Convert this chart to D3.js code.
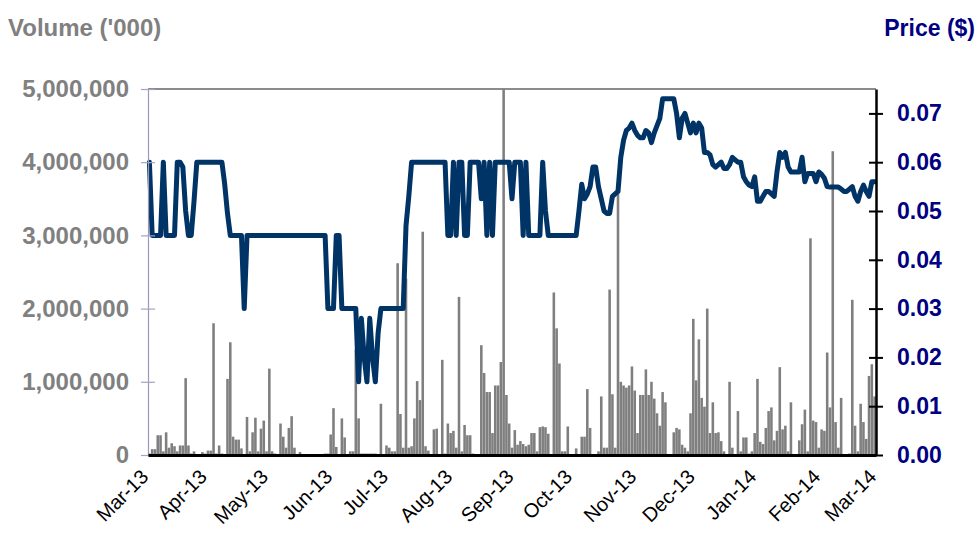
<!DOCTYPE html>
<html><head><meta charset="utf-8">
<script src="https://cdn.jsdelivr.net/npm/d3@7"></script>
<style>body{margin:0;background:#fff}svg{display:block}</style>
</head><body><svg id="c" width="979" height="541"></svg>
<script>
// Daily closing price ($), one value per trading day, Mar-2013 .. Feb-2014
const priceValues = [
.06,.045,.045,.045,.045,.06,.045,.045,.045,.045,
.06,.06,.059,.05,.045,.045,.052,.06,.06,.06,
.06,.06,.06,.06,.06,.06,.06,.0555,.0495,.045,
.045,.045,.045,.045,.03,.045,.045,.045,.045,.045,
.045,.045,.045,.045,.045,.045,.045,.045,.045,.045,
.045,.045,.045,.045,.045,.045,.045,.045,.045,.045,
.045,.045,.045,.045,.03,.03,.03,.045,.045,.03,
.03,.03,.03,.03,.03,.015,.028,.02,.015,.028,
.02,.015,.025,.03,.03,.03,.03,.03,.03,.03,
.03,.03,.047,.053,.06,.06,.06,.06,.06,.06,
.06,.06,.06,.06,.06,.06,.06,.045,.045,.06,
.045,.06,.06,.045,.045,.06,.06,.06,.06,.0525,
.06,.045,.06,.045,.06,.06,.06,.06,.06,.06,
.0525,.06,.06,.06,.045,.06,.045,.045,.045,.045,
.045,.06,.05,.045,.045,.045,.045,.045,.045,.045,
.045,.045,.045,.045,.05,.0555,.0525,.0535,.055,.059,
.059,.055,.0525,.05,.0495,.0495,.053,.0535,.054,.061,
.0645,.0665,.067,.068,.0665,.0655,.065,.065,.0665,.066,
.064,.066,.0675,.069,.073,.073,.073,.073,.073,.07,
.065,.069,.07,.068,.066,.068,.066,.068,.067,.062,
.062,.0615,.0595,.059,.0595,.06,.0587,.0587,.0595,.061,
.0605,.06,.06,.057,.056,.0553,.055,.057,.052,.052,
.053,.054,.054,.0535,.053,.058,.062,.061,.062,.059,
.058,.058,.058,.058,.061,.056,.0577,.0577,.0577,.056,
.058,.0575,.0567,.055,.0549,.0549,.0549,.0549,.0545,.054,
.054,.0545,.055,.053,.052,.054,.0553,.054,.053,.056,
.056];

// Daily volume ('000), one value per trading day
const volumeValues = [
20000,80000,80000,270000,270000,50000,310000,100000,160000,120000,
50000,130000,130000,1050000,130000,20000,50000,0,0,40000,
20000,60000,60000,1800000,20000,130000,20000,0,1040000,1540000,
250000,210000,210000,90000,0,520000,50000,310000,510000,50000,
360000,470000,50000,1180000,50000,20000,0,430000,250000,100000,
370000,530000,100000,0,40000,0,0,0,0,0,
0,0,0,20000,20000,280000,640000,110000,0,500000,
240000,0,50000,50000,1440000,500000,20000,20000,20000,20000,
20000,20000,0,700000,0,130000,100000,50000,50000,2620000,
560000,100000,2410000,100000,120000,500000,1010000,750000,3050000,120000,
60000,0,350000,360000,0,1300000,20000,430000,300000,330000,
100000,2160000,50000,410000,270000,270000,20000,0,0,1500000,
1120000,860000,860000,300000,950000,950000,1270000,5200000,820000,430000,
100000,340000,140000,190000,150000,120000,140000,300000,300000,50000,
380000,390000,380000,290000,0,2220000,1730000,1250000,50000,50000,
390000,0,0,90000,0,250000,250000,900000,370000,0,
0,50000,800000,100000,100000,2260000,830000,100000,3570000,1000000,
950000,920000,950000,1210000,880000,300000,820000,820000,1170000,820000,
1000000,770000,570000,400000,860000,720000,0,0,310000,370000,
350000,140000,100000,50000,570000,1860000,1020000,1580000,780000,660000,
2000000,300000,720000,300000,310000,190000,50000,0,1000000,100000,
0,600000,50000,240000,240000,20000,50000,300000,1040000,180000,
150000,370000,600000,650000,200000,330000,1200000,350000,400000,50000,
720000,0,0,200000,420000,620000,50000,2960000,470000,450000,
100000,350000,330000,1400000,650000,4150000,450000,100000,780000,0,
0,20000,2120000,400000,50000,700000,450000,220000,1080000,1240000,
800000];

const monthLabels = ["Mar-13","Apr-13","May-13","Jun-13","Jul-13","Aug-13","Sep-13","Oct-13","Nov-13","Dec-13","Jan-14","Feb-14","Mar-14"];
const volumeTicks = [0,1000000,2000000,3000000,4000000,5000000];
const priceTicks = [0,0.01,0.02,0.03,0.04,0.05,0.06,0.07];

// trading days (weekdays) from 1 Mar 2013 to 28 Feb 2014
const dates = d3.timeDay.range(new Date(2013,2,1), new Date(2014,2,1)).filter(d => d.getDay() % 6 !== 0);
const N = dates.length;
const monthIdx = [];
dates.forEach((d,i) => { if (i === 0 || d.getMonth() !== dates[i-1].getMonth()) monthIdx.push(i); });
monthIdx.push(N);

const L = 148, R = 876, T = 89, B = 455;
const FONT = "'Liberation Sans', Arial, sans-serif";
const svg = d3.select("#c");
const x = d3.scaleLinear().domain([0, N]).range([L, R]);
const yV = d3.scaleLinear().domain([0, 5000000]).range([B, T]);
const yP = d3.scaleLinear().domain([0, 0.075]).range([B, T]);
const step = x(1) - x(0);

svg.append("defs").append("clipPath").attr("id","pa")
  .append("rect").attr("x",L).attr("y",T).attr("width",R-L).attr("height",B-T);

// top border
svg.append("line").attr("x1",L).attr("x2",R).attr("y1",T).attr("y2",T)
  .attr("stroke","#8c8c8c").attr("stroke-width",2);

// volume bars
svg.append("g").attr("clip-path","url(#pa)")
  .selectAll("rect").data(volumeValues).join("rect")
  .attr("x",(d,i) => x(i) + step*0.04)
  .attr("width", step*0.92)
  .attr("y", d => yV(d))
  .attr("height", d => B - yV(d))
  .attr("fill","#7f7f7f");

// price line
const line = d3.line().x((d,i) => x(i + 0.5)).y(d => yP(d));
svg.append("path").datum(priceValues)
  .attr("d", line).attr("fill","none")
  .attr("stroke","#003366").attr("stroke-width",5)
  .attr("stroke-linejoin","round").attr("stroke-linecap","round");

// left axis
const gl = svg.append("g").attr("transform",`translate(${L},0)`)
  .call(d3.axisLeft(yV).tickValues(volumeTicks).tickFormat(d3.format(",")).tickSizeOuter(0));
gl.select(".domain").attr("stroke","#9a9ab8").attr("stroke-width",1.2);
gl.selectAll(".tick line").attr("x1",-7).attr("x2",7).attr("stroke","#a3a3c2").attr("stroke-width",1.2);
gl.selectAll(".tick text").attr("x",-19).attr("fill","#808080")
  .style("font-family",FONT).style("font-weight","bold").style("font-size","24px");

// right axis
const gr = svg.append("g").attr("transform",`translate(${R},0)`)
  .call(d3.axisRight(yP).tickValues(priceTicks).tickFormat(d3.format(".2f")).tickSizeOuter(0));
gr.select(".domain").attr("stroke","#000").attr("stroke-width",2.5);
gr.selectAll(".tick line").attr("x1",-7).attr("x2",7).attr("stroke","#000").attr("stroke-width",2);
gr.selectAll(".tick text").attr("x",21).attr("fill","#000080")
  .style("font-family",FONT).style("font-weight","bold").style("font-size","23px");

// bottom axis
const gb = svg.append("g").attr("transform",`translate(0,${B})`)
  .call(d3.axisBottom(x).tickValues(monthIdx).tickFormat((d,i) => monthLabels[i]).tickSize(0).tickSizeOuter(0));
gb.select(".domain").attr("stroke","#000").attr("stroke-width",3);
gb.selectAll(".tick text")
  .attr("x",0).attr("y",0).attr("dy",0)
  .attr("transform","translate(1,23) rotate(-45)")
  .attr("text-anchor","end").attr("fill","#000")
  .style("font-family",FONT).style("font-size","20px");

// axis titles
svg.append("text").attr("x",8).attr("y",36).text("Volume ('000)")
  .attr("fill","#808080").style("font-family",FONT)
  .style("font-weight","bold").style("font-size","24px");
svg.append("text").attr("x",975).attr("y",36).attr("text-anchor","end").text("Price ($)")
  .attr("fill","#000080").style("font-family",FONT)
  .style("font-weight","bold").style("font-size","23px");
</script></body></html>
